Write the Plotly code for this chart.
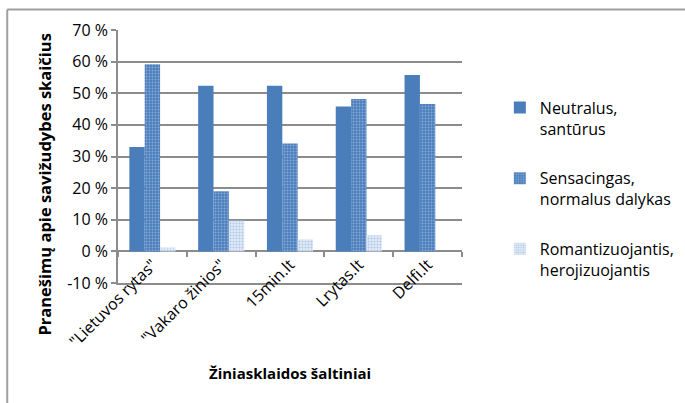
import plotly.graph_objects as go

categories = ['"Lietuvos rytas"', '"Vakaro žinios"', '15min.lt', 'Lrytas.lt', 'Delfi.lt']
neutral = [33.0, 52.4, 52.4, 45.8, 55.8]
sensational = [59.2, 19.0, 34.1, 48.2, 46.6]
romantic = [1.2, 9.7, 3.8, 5.1, 0.0]
series_names = ["Neutralus,<br>santūrus", "Sensacingas,<br>normalus dalykas", "Romantizuojantis,<br>herojizuojantis"]
y_ticks = [-10, 0, 10, 20, 30, 40, 50, 60, 70]
y_tick_labels = [f"{v} %" for v in y_ticks]

FONT = "Open Sans"
GRID = "#8c8c8c"

fig = go.Figure()
fig.add_trace(go.Bar(
    x=categories, y=neutral, name=series_names[0], legendgroup="a",
    marker=dict(color="#4a7ebb", line=dict(width=0)),
))
fig.add_trace(go.Bar(
    x=categories, y=sensational, name=series_names[1], legendgroup="b",
    marker=dict(color="#4a7ebb", line=dict(width=0),
                pattern=dict(shape=".", fgcolor="#c4d5ee", bgcolor="#4a7ebb",
                             size=3, solidity=0.35, fillmode="overlay")),
))
fig.add_trace(go.Bar(
    x=categories, y=romantic, name=series_names[2], legendgroup="c",
    marker=dict(color="#ffffff", line=dict(width=0),
                pattern=dict(shape=".", fgcolor="#7ea3d4", bgcolor="#e3ebf7",
                             size=3, solidity=0.4, fillmode="overlay")),
))
# invisible helper trace for the category axis drawn on the zero line
fig.add_trace(go.Scatter(x=categories, y=[0]*len(categories), xaxis="x2", mode="markers",
                         marker=dict(opacity=0), showlegend=False, hoverinfo="skip"))

fig.update_layout(
    width=685, height=403,
    margin=dict(l=118, r=223, t=30, b=120, autoexpand=False),
    paper_bgcolor="white", plot_bgcolor="white",
    font=dict(family=FONT, size=15, color="#000000"),
    barmode="group", bargap=0.33, bargroupgap=0,
    showlegend=True,
    legend=dict(x=1.11, y=0.76, xanchor="left", yanchor="top",
                font=dict(family=FONT, size=16), tracegroupgap=26,
                itemwidth=30, valign="top", bgcolor="rgba(0,0,0,0)"),
    xaxis=dict(type="category", range=[-0.5, 4.5], showgrid=False, automargin=False,
               showline=True, linecolor=GRID, linewidth=1.5,
               ticks="", showticklabels=False),
    xaxis2=dict(type="category", overlaying="x", anchor="free", position=0.125,
                range=[-0.5, 4.5], tickson="boundaries", ticks="outside", ticklen=5,
                tickcolor=GRID, tickwidth=1.5, showticklabels=True, tickangle=-45,
                tickfont=dict(family=FONT, size=16), automargin=False,
                showgrid=False, showline=False, zeroline=False),
    yaxis=dict(range=[-10, 70], tickvals=y_ticks, ticktext=y_tick_labels, automargin=False,
               showgrid=True, gridcolor=GRID, gridwidth=1.5,
               showline=True, linecolor=GRID, linewidth=1.5,
               ticks="outside", ticklen=5, tickcolor=GRID, tickwidth=1.5,
               zeroline=False, tickfont=dict(family=FONT, size=16)),
)

fig.add_annotation(text="<b>Pranešimų apie savižudybes skaičius</b>", textangle=-90,
                   xref="paper", yref="paper", x=-0.215, y=0.5, xanchor="center", yanchor="middle",
                   showarrow=False, font=dict(family=FONT, size=16.5), yshift=-28)
fig.add_annotation(text="<b>Žiniasklaidos šaltiniai</b>",
                   xref="paper", yref="paper", x=0.5, y=-0.356, xanchor="center", yanchor="middle",
                   showarrow=False, font=dict(family=FONT, size=15))

# chart frame (top and left edges visible in the crop)
fig.add_shape(type="line", xref="paper", yref="paper", x0=-0.322, x1=1.7, y0=1.081, y1=1.081,
              line=dict(color="#a0a0a0", width=2))
fig.add_shape(type="line", xref="paper", yref="paper", x0=-0.322, x1=-0.322, y0=1.081, y1=-0.5,
              line=dict(color="#a0a0a0", width=2))

fig.write_html("out.html", config={"displayModeBar": False},
               post_script="document.body.style.margin='0';")
